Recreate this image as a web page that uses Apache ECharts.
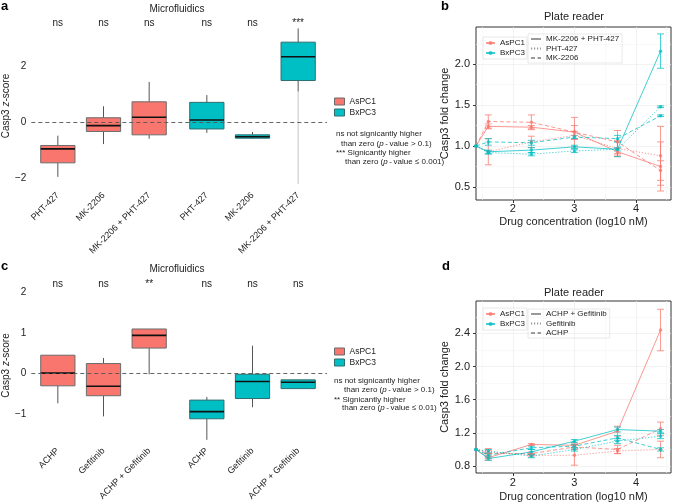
<!DOCTYPE html>
<html><head><meta charset="utf-8">
<script src="https://cdn.jsdelivr.net/npm/echarts@6/dist/echarts.min.js"></script>
<style>html,body{margin:0;padding:0;background:#fff}#c{width:674px;height:503px}</style>
</head><body><div id="c"></div>
<script>
const FONT = '"Liberation Sans", Arial, Helvetica, sans-serif';
const RED = '#F8766D', TEAL = '#00BFC4';
const RED_L = 'rgba(248,118,109,0.75)', TEAL_L = 'rgba(0,191,196,0.75)';

// ---------- Panel a (Microfluidics, AKT/PDK1 inhibitors) ----------
const catsA = ['PHT-427', 'MK-2206', 'MK-2206 + PHT-427'];
// [min, q1, median, q3, max]
const boxAsA = [[-1.96, -1.46, -0.96, -0.84, -0.49], [-0.79, -0.34, -0.13, 0.15, 0.56], [-0.60, -0.46, 0.17, 0.72, 1.43]];
const boxBxA = [[-0.39, -0.25, 0.07, 0.70, 0.96], [-0.60, -0.58, -0.53, -0.46, -0.36], [1.09, 1.48, 2.33, 2.85, 3.34]];
const tailAsA = [null, null, null];
const tailBxA = [null, null, -2.22];
const sigAsA = ['ns', 'ns', 'ns'];
const sigBxA = ['ns', 'ns', '***'];

// ---------- Panel c (Microfluidics, EGFR/IKK inhibitors) ----------
const catsC = ['ACHP', 'Gefitinib', 'ACHP + Gefitinib'];
const boxAsC = [[-0.79, -0.35, -0.03, 0.42, 0.42], [-1.12, -0.60, -0.36, 0.21, 0.35], [-0.06, 0.60, 0.92, 1.08, 1.08]];
const boxBxC = [[-1.71, -1.18, -1.00, -0.71, -0.63], [-0.89, -0.67, -0.24, -0.06, 0.66], [-0.42, -0.42, -0.26, -0.20, -0.20]];
const tailC = [null, null, null];
const sigAsC = ['ns', 'ns', '**'];
const sigBxC = ['ns', 'ns', 'ns'];

// ---------- Plate reader (log10 nM) ----------
const concX = [1.4, 1.6, 2.3, 3.0, 3.7, 4.4];
// Panel b
const bAsCombo = [1.0, 1.24, 1.23, 1.17, 0.93, 0.75];
const bAsCombErr = [0, 0.03, 0.02, 0.08, 0.04, 0.30];
const bAsPHT = [1.0, 0.93, 1.05, 1.13, 0.97, 0.88];
const bAsPHTErr = [0, 0.16, 0.07, 0.05, 0.10, 0.36];
const bAsMK = [1.0, 1.30, 1.29, 1.17, 1.05, 0.70];
const bAsMKErr = [0, 0.08, 0.09, 0.18, 0.14, 0.12];
const bBxCombo = [1.0, 0.93, 0.95, 0.99, 0.96, 2.16];
const bBxCombErr = [0, 0.02, 0.03, 0.02, 0.09, 0.21];
const bBxPHT = [1.0, 0.92, 0.90, 0.94, 0.96, 1.48];
const bBxPHTErr = [0, 0.02, 0.02, 0.02, 0.02, 0.01];
const bBxMK = [1.0, 1.05, 1.04, 1.11, 1.09, 1.37];
const bBxMKErr = [0, 0.04, 0.03, 0.02, 0.04, 0.01];
// Panel d
const dAsCombo = [1.0, 0.90, 1.06, 1.05, 1.22, 2.44];
const dAsCombErr = [0, 0.03, 0.01, 0.03, 0.06, 0.25];
const dAsGef = [1.0, 0.97, 0.93, 0.93, 0.98, 1.00];
const dAsGefErr = [0, 0.02, 0.02, 0.12, 0.03, 0.10];
const dAsACHP = [1.0, 0.95, 0.95, 1.03, 1.00, 1.25];
const dAsACHPErr = [0, 0.06, 0.02, 0.03, 0.05, 0.08];
const dBxCombo = [1.0, 0.89, 0.97, 1.10, 1.24, 1.22];
const dBxCombErr = [0, 0.02, 0.03, 0.02, 0.03, 0.02];
const dBxGef = [1.0, 0.98, 0.92, 1.00, 1.10, 1.16];
const dBxGefErr = [0, 0.02, 0.02, 0.02, 0.03, 0.03];
const dBxACHP = [1.0, 0.93, 1.02, 1.04, 1.14, 1.00];
const dBxACHPErr = [0, 0.02, 0.02, 0.02, 0.03, 0.02];

const minus = v => String(v).replace('-', '\u2212');

function boxSeries(name, gi, boxes, tails, sigs, fill, border) {
  return {
    type: 'custom', name, xAxisIndex: gi, yAxisIndex: gi, z: 3,
    itemStyle: { color: fill, borderColor: border },
    data: boxes.map((b, i) => [i, b[0], b[1], b[2], b[3], b[4], tails[i] == null ? NaN : tails[i]]),
    renderItem(params, api) {
      const i = api.value(0);
      const cx = api.coord([i, 0])[0];
      const w = api.size([1, 0])[0] * 0.75;
      const p = k => api.coord([i, api.value(k)])[1];
      const yMin = p(1), yQ1 = p(2), yMed = p(3), yQ3 = p(4), yMax = p(5);
      const ch = [];
      const tv = api.value(6);
      if (!isNaN(tv)) ch.push({ type: 'line', shape: { x1: cx, y1: yMin, x2: cx, y2: api.coord([i, tv])[1] }, style: { stroke: '#d2d2d2', lineWidth: 1.3 } });
      ch.push({ type: 'line', shape: { x1: cx, y1: yQ3, x2: cx, y2: yMax }, style: { stroke: '#555', lineWidth: 1 } });
      ch.push({ type: 'line', shape: { x1: cx, y1: yQ1, x2: cx, y2: yMin }, style: { stroke: '#555', lineWidth: 1 } });
      ch.push({ type: 'rect', shape: { x: cx - w / 2, y: yQ3, width: w, height: Math.max(yQ1 - yQ3, 1) }, style: { fill, stroke: border, lineWidth: 1 } });
      ch.push({ type: 'line', shape: { x1: cx - w / 2, y1: yMed, x2: cx + w / 2, y2: yMed }, style: { stroke: '#111', lineWidth: 1.6 } });
      ch.push({ type: 'text', x: cx, y: params.coordSys.y + 1.5, style: { text: sigs[i], fill: '#222', font: '10px ' + FONT, textAlign: 'center', textVerticalAlign: 'middle', verticalAlign: 'middle' } });
      return { type: 'group', children: ch };
    }
  };
}

function lineSeries(name, gi, vals, color, type) {
  return {
    type: 'line', name, xAxisIndex: gi, yAxisIndex: gi, z: 4, clip: true,
    data: concX.map((x, i) => [x, vals[i]]),
    symbol: 'circle', symbolSize: 3.5, showSymbol: true, color,
    lineStyle: { width: 1, type }, itemStyle: { color }, emphasis: { disabled: true }
  };
}
function errSeries(gi, vals, errs, color) {
  return {
    type: 'custom', xAxisIndex: gi, yAxisIndex: gi, clip: true, silent: true, z: 3,
    data: concX.map((x, i) => [x, vals[i] - errs[i], vals[i] + errs[i]]),
    renderItem(params, api) {
      const a = api.coord([api.value(0), api.value(1)]);
      const b = api.coord([api.value(0), api.value(2)]);
      if (Math.abs(a[1] - b[1]) < 0.5) return null;
      const x = a[0], cw = 3.5;
      const st = { stroke: color, lineWidth: 1 };
      return { type: 'group', children: [
        { type: 'line', shape: { x1: x, y1: a[1], x2: x, y2: b[1] }, style: st },
        { type: 'line', shape: { x1: x - cw, y1: a[1], x2: x + cw, y2: a[1] }, style: st },
        { type: 'line', shape: { x1: x - cw, y1: b[1], x2: x + cw, y2: b[1] }, style: st }
      ] };
    }
  };
}
function dummy(name, gi, type) {
  return { type: 'line', name, xAxisIndex: gi, yAxisIndex: gi, data: [], symbol: 'none', color: '#9a9a9a', lineStyle: { width: 1.4, type } };
}
const DASH = [4, 2.5], DOT = [1.2, 1.8];

// ---------- grids ----------
const gA = { top: 22, height: 168 }, gC = { top: 282.5, height: 166 };
const grids = [
  { left: 30, width: 297, ...gA },     // 0 a full
  { left: 35, width: 137, ...gA },     // 1 a left
  { left: 184, width: 137, ...gA },    // 2 a right
  { left: 476, top: 27, width: 195, height: 173, show: true, borderColor: '#333', borderWidth: 1 }, // 3 b
  { left: 30, width: 297, ...gC },     // 4 c full
  { left: 35, width: 137, ...gC },     // 5 c left
  { left: 184, width: 137, ...gC },    // 6 c right
  { left: 476, top: 301, width: 195, height: 173, show: true, borderColor: '#333', borderWidth: 1 } // 7 d
];
grids.forEach(g => { g.containLabel = false; });

const yA = { min: -2.43, max: 3.57 }, yC = { min: -1.85, max: 2.25 };
const yB = { min: 0.34, max: 2.455 }, yD = { min: 0.716, max: 2.79 };
const xP = { min: 1.4, max: 4.57 };
const hid = { show: false };
const catX = (gi, data) => ({ type: 'category', gridIndex: gi, data, axisLine: hid, axisTick: hid,
  axisLabel: { rotate: 45, fontSize: 9, fontFamily: FONT, color: '#222', margin: 4, interval: 0 } });
const zName = { fontSize: 10, fontFamily: FONT, color: '#222', rich: { i: { fontStyle: 'italic', fontSize: 10, fontFamily: FONT, color: '#222' } } };
const zAxis = (gi, r, ticks) => ({ type: 'value', gridIndex: gi, ...r, axisLine: hid, axisTick: { show: false, customValues: ticks }, splitLine: hid,
  axisLabel: { customValues: ticks, fontSize: 10, fontFamily: FONT, color: '#222', margin: 5, formatter: minus },
  name: 'Casp3 {i|z}-score', nameLocation: 'middle', nameGap: 20, nameTextStyle: zName });
const plateX = (gi, gap, margin) => ({ type: 'value', gridIndex: gi, ...xP, axisLine: hid,
  axisTick: { show: true, length: 3, lineStyle: { color: '#333' }, customValues: [2, 3, 4] },
  axisLabel: { customValues: [2, 3, 4], fontSize: 11, fontFamily: FONT, color: '#222', margin },
  splitLine: { show: true, lineStyle: { color: '#ececec', width: 0.7 } },
  name: 'Drug concentration (log10 nM)', nameLocation: 'middle', nameGap: gap, nameTextStyle: { fontSize: 11, fontFamily: FONT, color: '#222' } });
const plateY = (gi, r, ticks, dec) => ({ type: 'value', gridIndex: gi, ...r, axisLine: hid,
  axisTick: { show: true, length: 3, lineStyle: { color: '#333' }, customValues: ticks },
  axisLabel: { customValues: ticks, fontSize: 11, fontFamily: FONT, color: '#222', margin: 6, formatter: v => v.toFixed(dec) },
  splitLine: { show: true, lineStyle: { color: '#ececec', width: 0.7 } },
  name: 'Casp3 fold change', nameLocation: 'middle', nameGap: 23, nameTextStyle: { fontSize: 11, fontFamily: FONT, color: '#222' } });
const minorX = gi => ({ type: 'value', gridIndex: gi, ...xP, axisLine: hid, axisLabel: hid, axisTick: { show: false, customValues: [1.5, 2.5, 3.5, 4.5] }, splitLine: { show: true, lineStyle: { color: '#f5f5f5', width: 0.6 } } });
const minorY = (gi, r, ticks) => ({ type: 'value', gridIndex: gi, ...r, axisLine: hid, axisLabel: hid, axisTick: { show: false, customValues: ticks }, splitLine: { show: true, lineStyle: { color: '#f5f5f5', width: 0.6 } } });

const xAxis = [
  { type: 'value', gridIndex: 0, min: 0, max: 1, show: false },
  catX(1, catsA), catX(2, catsA),
  plateX(3, 16, 3),
  { type: 'value', gridIndex: 4, min: 0, max: 1, show: false },
  catX(5, catsC), catX(6, catsC),
  plateX(7, 18, 4),
  minorX(3), minorX(7)
];
const yAxis = [
  zAxis(0, yA, [-2, 0, 2]),
  { type: 'value', gridIndex: 1, ...yA, show: false },
  { type: 'value', gridIndex: 2, ...yA, show: false },
  plateY(3, yB, [0.5, 1.0, 1.5, 2.0], 1),
  zAxis(4, yC, [-1, 0, 1, 2]),
  { type: 'value', gridIndex: 5, ...yC, show: false },
  { type: 'value', gridIndex: 6, ...yC, show: false },
  plateY(7, yD, [0.8, 1.2, 1.6, 2.0, 2.4], 1),
  minorY(3, yB, [0.75, 1.25, 1.75, 2.25]),
  minorY(7, yD, [1.0, 1.4, 1.8, 2.2, 2.6])
];

const zeroLine = gi => ({ type: 'line', xAxisIndex: gi, yAxisIndex: gi, data: [], silent: true, z: 2,
  markLine: { silent: true, symbol: 'none', label: hid, lineStyle: { color: '#555', width: 0.9, type: [4, 3] }, data: [{ yAxis: 0 }] } });

const B1 = 'AsPC1\u200b', B2 = 'BxPC3\u200b', D1 = 'AsPC1\u200b\u200b', D2 = 'BxPC3\u200b\u200b';
const series = [
  zeroLine(0), zeroLine(4),
  boxSeries('AsPC1', 1, boxAsA, tailAsA, sigAsA, RED, '#6b6b6b'),
  boxSeries('BxPC3', 2, boxBxA, tailBxA, sigBxA, TEAL, '#2f6e70'),
  boxSeries('AsPC1', 5, boxAsC, tailC, sigAsC, RED, '#6b6b6b'),
  boxSeries('BxPC3', 6, boxBxC, tailC, sigBxC, TEAL, '#2f6e70'),
  // panel b
  lineSeries(B1, 3, bAsCombo, RED_L, 'solid'), lineSeries(B1, 3, bAsPHT, RED_L, DOT), lineSeries(B1, 3, bAsMK, RED_L, DASH),
  lineSeries(B2, 3, bBxCombo, TEAL_L, 'solid'), lineSeries(B2, 3, bBxPHT, TEAL_L, DOT), lineSeries(B2, 3, bBxMK, TEAL_L, DASH),
  errSeries(3, bAsCombo, bAsCombErr, RED_L), errSeries(3, bAsPHT, bAsPHTErr, RED_L), errSeries(3, bAsMK, bAsMKErr, RED_L),
  errSeries(3, bBxCombo, bBxCombErr, TEAL_L), errSeries(3, bBxPHT, bBxPHTErr, TEAL_L), errSeries(3, bBxMK, bBxMKErr, TEAL_L),
  dummy('MK-2206 + PHT-427', 3, 'solid'), dummy('PHT-427', 3, DOT), dummy('MK-2206', 3, DASH),
  // panel d
  lineSeries(D1, 7, dAsCombo, RED_L, 'solid'), lineSeries(D1, 7, dAsGef, RED_L, DOT), lineSeries(D1, 7, dAsACHP, RED_L, DASH),
  lineSeries(D2, 7, dBxCombo, TEAL_L, 'solid'), lineSeries(D2, 7, dBxGef, TEAL_L, DOT), lineSeries(D2, 7, dBxACHP, TEAL_L, DASH),
  errSeries(7, dAsCombo, dAsCombErr, RED_L), errSeries(7, dAsGef, dAsGefErr, RED_L), errSeries(7, dAsACHP, dAsACHPErr, RED_L),
  errSeries(7, dBxCombo, dBxCombErr, TEAL_L), errSeries(7, dBxGef, dBxGefErr, TEAL_L), errSeries(7, dBxACHP, dBxACHPErr, TEAL_L),
  dummy('ACHP + Gefitinib', 7, 'solid'), dummy('Gefitinib', 7, DOT), dummy('ACHP', 7, DASH)
];

const legTxt = { fontSize: 8.5, fontFamily: FONT, color: '#222' };
const legTxtS = { fontSize: 8, fontFamily: FONT, color: '#222' };
const strip = n => n.replace(/\u200b/g, '');
const boxLeg = (top) => ({ left: 334, top, orient: 'vertical', selectedMode: false, itemWidth: 10, itemHeight: 7, itemGap: 2, padding: 0, textStyle: legTxt,
  data: [{ name: 'AsPC1', icon: 'rect', itemStyle: { color: RED, borderColor: '#6b6b6b', borderWidth: 1 } },
         { name: 'BxPC3', icon: 'rect', itemStyle: { color: TEAL, borderColor: '#2f6e70', borderWidth: 1 } }] });
const cellLeg = (top, a, b) => ({ left: 483, top, orient: 'vertical', selectedMode: false, itemWidth: 9, itemHeight: 5, itemGap: 2, padding: [2, 2, 2, 2],
  borderColor: '#e2e2e2', borderWidth: 0.8, textStyle: legTxtS, formatter: strip, data: [a, b] });
const trtItem = n => ({ name: n, itemStyle: { opacity: 0 } });
const trtLeg = (top, names) => ({ left: 528, top, orient: 'vertical', selectedMode: false, itemWidth: 10, itemHeight: 6, itemGap: 1.5, padding: [1, 3, 1, 2],
  borderColor: '#e2e2e2', borderWidth: 0.8, textStyle: legTxtS, data: names.map(trtItem) });
const legend = [
  boxLeg(97), boxLeg(347),
  cellLeg(37, B1, B2), trtLeg(34, ['MK-2206 + PHT-427', 'PHT-427', 'MK-2206']),
  cellLeg(308, D1, D2), trtLeg(309, ['ACHP + Gefitinib', 'Gefitinib', 'ACHP'])
];

const txt = (text, x, y, size, opts = {}) => ({ type: 'text', silent: true, style: Object.assign({ text, x, y, font: size + 'px ' + FONT, fill: '#222',
  textAlign: 'left', textVerticalAlign: 'middle', verticalAlign: 'middle', rich: { i: { fontStyle: 'italic', fontSize: size, fontFamily: FONT, fill: '#222' } } }, opts) });
const bold = (t, x, y) => txt(t, x, y, 13, { font: 'bold 13px ' + FONT, fill: '#000' });
const graphic = [
  bold('a', 1, 6), bold('b', 441, 6), bold('c', 1, 266), bold('d', 442, 266),
  txt('Microfluidics', 177, 9, 10, { textAlign: 'center' }),
  txt('Microfluidics', 177, 269, 10, { textAlign: 'center' }),
  txt('Plate reader', 574, 17, 11, { textAlign: 'center' }),
  txt('Plate reader', 574, 292.5, 11, { textAlign: 'center' }),
  txt('ns not signicantly higher', 336, 134, 8),
  txt('than zero ({i|p}\u2009-\u2009value > 0.1)', 341, 143.5, 8),
  txt('*** Signicantly higher', 336, 153, 8),
  txt('than zero ({i|p}\u2009-\u2009value \u2264 0.001)', 345, 162, 8),
  txt('ns not signicantly higher', 334, 381, 8),
  txt('than zero ({i|p}\u2009-\u2009value > 0.1)', 344, 389.5, 8),
  txt('** Signicantly higher', 334, 399.5, 8),
  txt('than zero ({i|p}\u2009-\u2009value \u2264 0.01)', 342, 407.5, 8)
];

const chart = echarts.init(document.getElementById('c'), null, { renderer: 'canvas' });
chart.setOption({ animation: false, backgroundColor: '#fff', textStyle: { fontFamily: FONT },
  grid: grids, xAxis, yAxis, series, legend, graphic });
</script></body></html>
